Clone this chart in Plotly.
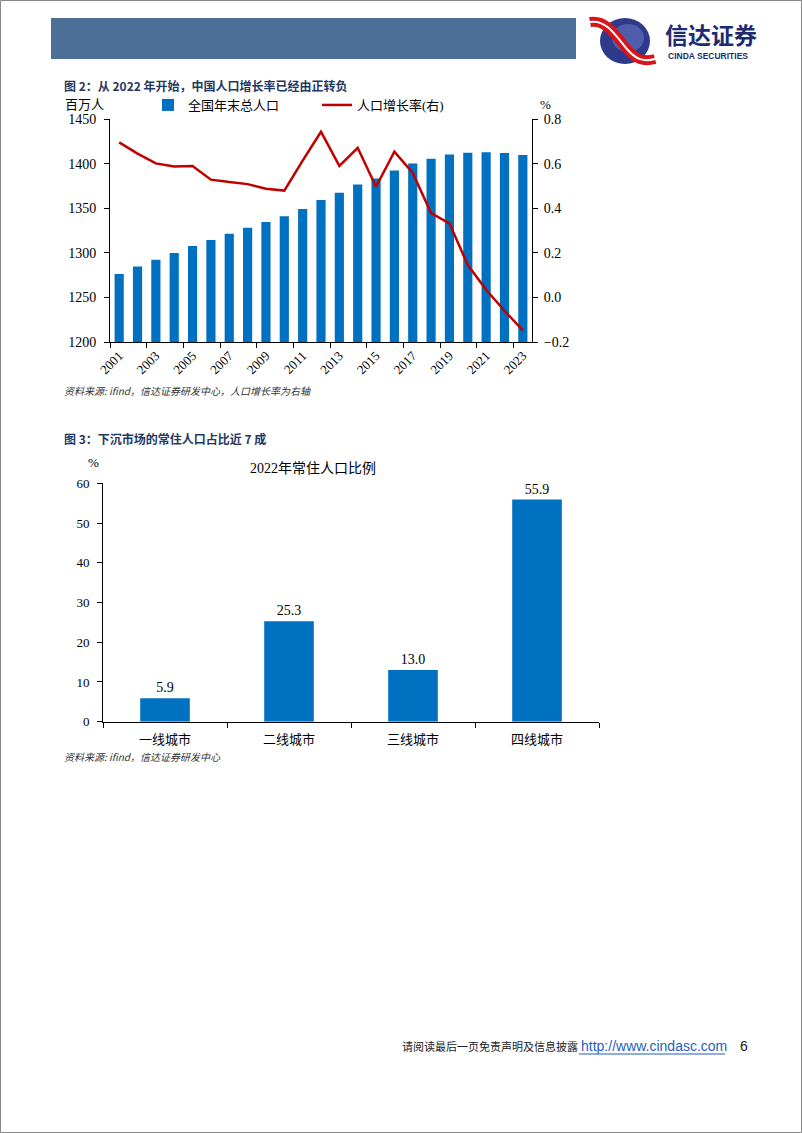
import plotly.graph_objects as go

# ---------------- data ----------------
years = list(range(2001, 2024))
population = [1276.27, 1284.53, 1292.27, 1299.88, 1307.56, 1314.48, 1321.29, 1328.02,
              1334.50, 1340.91, 1349.16, 1359.22, 1367.26, 1376.46, 1383.26, 1392.32,
              1400.11, 1405.41, 1410.08, 1412.12, 1412.60, 1411.75, 1409.67]
growth_rate = [0.695, 0.645, 0.601, 0.587, 0.589, 0.528, 0.517, 0.508, 0.487, 0.479,
               0.613, 0.743, 0.590, 0.671, 0.496, 0.653, 0.558, 0.378, 0.332, 0.145,
               0.034, -0.060, -0.148]
year_ticks = list(range(2001, 2024, 2))

city_tiers = ["一线城市", "二线城市", "三线城市", "四线城市"]
city_share = [5.9, 25.3, 13.0, 55.9]

W, H = 802, 1133
def px(x):
    return x / W
def py(y):
    return 1 - y / H

SERIF = "Liberation Serif, Times New Roman, Noto Sans CJK SC"
CJK = "Noto Sans CJK SC"
BLUE = "#0070C0"
RED = "#C00000"
NAVY = "#1F3864"

fig = go.Figure()

# chart 1
fig.add_trace(go.Bar(x=years, y=population, name="全国年末总人口", marker_color=BLUE,
                     marker_line_width=0, xaxis="x", yaxis="y"))
fig.add_trace(go.Scatter(x=years, y=growth_rate, name="人口增长率(右)", mode="lines",
                         line=dict(color=RED, width=2.5), xaxis="x", yaxis="y2"))
# chart 2
fig.add_trace(go.Bar(x=list(range(len(city_tiers))), y=city_share, marker_color=BLUE,
                     marker_line_width=0, text=[f"{v:.1f}" for v in city_share],
                     textposition="outside", cliponaxis=False, width=0.4,
                     textfont=dict(family=SERIF, size=14, color="black"),
                     showlegend=False, xaxis="x3", yaxis="y3"))

axis_common = dict(showline=True, linecolor="black", linewidth=1, showgrid=False,
                   zeroline=False, ticks="outside", ticklen=5, tickcolor="black",
                   automargin=False,
                   tickfont=dict(family=SERIF, size=13, color="black"))

stripe = (f"M {px(590)},{py(22)} C {px(606)},{py(19)} {px(616)},{py(36)} {px(626)},{py(48)} "
          f"S {px(644)},{py(62)} {px(655)},{py(59)}")

shapes = [
    # page border
    dict(type="rect", xref="paper", yref="paper", x0=px(0.5), x1=px(801.5), y0=py(1132.5), y1=py(0.5),
         line=dict(color="#888888", width=1), layer="above"),
    # header bar
    dict(type="rect", xref="paper", yref="paper", x0=px(51), x1=px(576), y0=py(59), y1=py(18),
         fillcolor="#4B6F97", line_width=0),
    # logo globe
    dict(type="circle", xref="paper", yref="paper", x0=px(600), x1=px(650), y0=py(64), y1=py(18),
         fillcolor="#2E3A8C", line_width=0),
    dict(type="circle", xref="paper", yref="paper", x0=px(612), x1=px(644), y0=py(52), y1=py(24),
         fillcolor="#6676C0", line_width=0, opacity=0.6),
    # logo red stripes
    dict(type="path", xref="paper", yref="paper", path=stripe,
         line=dict(color="#D7141A", width=10)),
    dict(type="path", xref="paper", yref="paper", path=stripe,
         line=dict(color="white", width=2)),
    # footer url underline
    dict(type="line", xref="paper", yref="paper", x0=px(579), x1=px(725), y0=py(1054), y1=py(1054),
         line=dict(color="#1F5FBF", width=1)),
]

def ann(text, x, y, size=13, color="black", family=CJK, xanchor="left", yanchor="middle"):
    return dict(text=text, x=px(x), y=py(y), xref="paper", yref="paper", showarrow=False,
                xanchor=xanchor, yanchor=yanchor, font=dict(family=family, size=size, color=color))

annotations = [
    ann("<b>信达证券</b>", 663, 34, size=23, color="#1D2B70"),
    ann("<b>CINDA SECURITIES</b>", 666, 56, size=8.5, color="#1D2B70", family="Liberation Sans, Arial"),
    ann("<b>图 2：从 2022 年开始，中国人口增长率已经由正转负</b>", 62, 85, size=12, color=NAVY),
    ann("百万人", 84, 104, size=13, family=SERIF, xanchor="center"),
    ann("%", 545, 104, size=13, family=SERIF, xanchor="center"),
    ann("<i>资料来源: ifind，信达证券研发中心，人口增长率为右轴</i>", 62, 390, size=10, color="#333333"),
    ann("<b>图 3：下沉市场的常住人口占比近 7 成</b>", 62, 438, size=12, color=NAVY),
    ann("%", 93, 463, size=13, family=SERIF, xanchor="center"),
    ann("2022年常住人口比例", 313, 468, size=14, family=SERIF, xanchor="center"),
    ann("<i>资料来源: ifind，信达证券研发中心</i>", 62, 757, size=10, color="#333333"),
    ann("请阅读最后一页免责声明及信息披露", 400, 1046, size=11, color="#222222"),
    ann("http://www.cindasc.com", 579, 1046, size=14, color="#1F5FBF", family="Liberation Sans, Arial"),
    ann("6", 738, 1046, size=14, color="#222222", family="Liberation Sans, Arial"),
]

fig.update_layout(
    template="none",
    width=W, height=H, margin=dict(l=0, r=0, t=0, b=0, pad=0, autoexpand=False),
    paper_bgcolor="white", plot_bgcolor="white",
    bargap=0.5,
    showlegend=True,
    legend=dict(orientation="h", x=px(148), y=py(90), xanchor="left", yanchor="top",
                font=dict(family=SERIF, size=13, color="black"), bgcolor="rgba(0,0,0,0)",
                entrywidth=124, entrywidthmode="pixels", itemwidth=30, tracegroupgap=0),
    xaxis=dict(axis_common, domain=[px(110), px(532)], range=[2000.5, 2023.5],
               tickmode="array", tickvals=year_ticks, ticktext=[str(y) for y in year_ticks],
               ticks="", tickangle=-45, tickfont=dict(family=SERIF, size=13, color="black"),
               minor=dict(ticks="outside", ticklen=5, tickcolor="black", tickmode="array",
                          tickvals=[y - 0.5 for y in year_ticks]),
               anchor="y"),
    yaxis=dict(axis_common, domain=[py(342), py(119)], range=[1200, 1450], dtick=50,
               ticklabelstandoff=5, tickfont=dict(family=SERIF, size=14, color="black"),
               anchor="x"),
    yaxis2=dict(axis_common, overlaying="y", side="right", range=[-0.2, 0.8], dtick=0.2,
                ticklabelstandoff=3, tickfont=dict(family=SERIF, size=14, color="black"),
                tickformat=".1f", anchor="x"),
    xaxis3=dict(axis_common, domain=[px(103), px(599)], range=[-0.5, 3.5],
                tickmode="array", tickvals=list(range(len(city_tiers))), ticktext=city_tiers,
                ticks="", ticklabelstandoff=6, tickfont=dict(family=SERIF, size=13, color="black"),
                minor=dict(ticks="outside", ticklen=5, tickcolor="black", tickmode="array",
                           tickvals=[i - 0.5 for i in range(len(city_tiers) + 1)]),
                anchor="y3"),
    yaxis3=dict(axis_common, domain=[py(721.7), py(483.3)], range=[0, 60], dtick=10,
                ticklabelstandoff=5, anchor="x3"),
    shapes=shapes,
    annotations=annotations,
)

fig.write_html("out.html", post_script="document.body.style.margin='0';document.body.style.padding='0';")
